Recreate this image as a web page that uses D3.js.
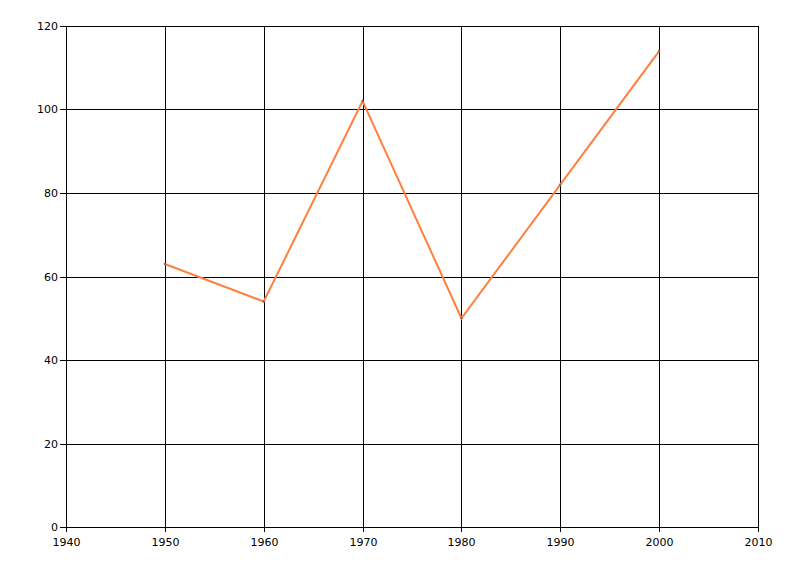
<!DOCTYPE html>
<html><head><meta charset="utf-8">
<script src="https://cdn.jsdelivr.net/npm/d3@7"></script>
<style>body{margin:0;background:#fff}svg{display:block}</style>
</head><body><svg id="c" width="800" height="576"></svg>
<script>
const years = [1950, 1960, 1970, 1980, 1990, 2000];
const values = [63, 54, 102, 50, 82, 114];
const xTicks = [1940, 1950, 1960, 1970, 1980, 1990, 2000, 2010];
const yTicks = [0, 20, 40, 60, 80, 100, 120];

const svg = d3.select("#c");
const L = 66, R = 758, T = 26, B = 527;
const x = d3.scaleLinear().domain([1940, 2010]).range([L, R]);
const y = d3.scaleLinear().domain([0, 120]).range([B, T]);

const g = svg.append("g");
// grid
g.selectAll(".vg").data(xTicks).join("line")
  .attr("x1", d => Math.round(x(d)) + 0.5).attr("x2", d => Math.round(x(d)) + 0.5)
  .attr("y1", T).attr("y2", B + 5).attr("stroke", "#000").attr("stroke-width", 1);
g.selectAll(".hg").data(yTicks).join("line")
  .attr("y1", d => Math.round(y(d)) + 0.5).attr("y2", d => Math.round(y(d)) + 0.5)
  .attr("x1", L - 6).attr("x2", R).attr("stroke", "#000").attr("stroke-width", 1);

// labels
g.selectAll(".yl").data(yTicks).join("text")
  .attr("x", L - 8).attr("y", d => Math.round(y(d)) + 4)
  .attr("text-anchor", "end").attr("font-family", "DejaVu Sans, sans-serif")
  .attr("font-size", 11).attr("fill", "#000").text(d => d);
g.selectAll(".xl").data(xTicks).join("text")
  .attr("x", d => Math.round(x(d)) + 0.5).attr("y", B + 19)
  .attr("text-anchor", "middle").attr("font-family", "DejaVu Sans, sans-serif")
  .attr("font-size", 11).attr("fill", "#000").text(d => d);

// line
const pts = years.map((yr, i) => [yr, values[i]]);
g.append("path").datum(pts)
  .attr("d", d3.line().x(d => x(d[0])).y(d => y(d[1])))
  .attr("fill", "none").attr("stroke", "#FF7F3F").attr("stroke-width", 2);
g.selectAll(".pt").data(pts).join("rect")
  .attr("x", d => x(d[0]) - 1).attr("y", d => y(d[1]) - 1)
  .attr("width", 2).attr("height", 2).attr("fill", "#666");
</script></body></html>
